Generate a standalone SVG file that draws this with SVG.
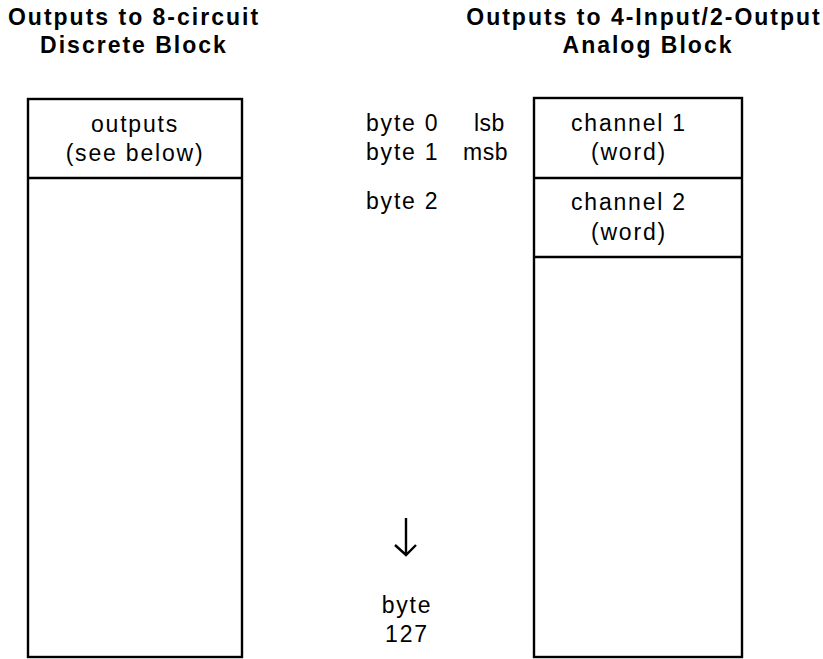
<svg xmlns="http://www.w3.org/2000/svg" width="823" height="659" viewBox="0 0 823 659">
  <style>
    .title { font-family: "Liberation Sans", Arial, sans-serif; font-weight: bold; font-size: 23px; letter-spacing: 2px; fill: #000; text-anchor: middle; }
    .lbl { font-family: "Liberation Sans", Arial, sans-serif; font-size: 23px; letter-spacing: 1.8px; fill: #000; }
    .tight { letter-spacing: 0.5px; }
    .mid { text-anchor: middle; }
    .box { fill: #fff; stroke: #000; stroke-width: 2.4; }
    .rule { stroke: #000; stroke-width: 2.4; fill: none; }
  </style>
  <rect width="823" height="659" fill="#fff"/>

  <!-- Discrete block output image -->
  <g id="discrete-title">
    <text class="title" x="134" y="25">Outputs to 8-circuit</text>
    <text class="title" x="134" y="53">Discrete Block</text>
  </g>
  <g id="discrete-table">
    <rect class="box" x="28" y="99" width="214" height="558"/>
    <line class="rule" x1="28" y1="178" x2="242" y2="178"/>
    <text class="lbl mid" x="135" y="132">outputs</text>
    <text class="lbl mid" x="135" y="161">(see below)</text>
  </g>

  <!-- Analog block output image -->
  <g id="analog-title">
    <text class="title" x="644" y="25">Outputs to 4-Input/2-Output</text>
    <text class="title" x="648" y="53">Analog Block</text>
  </g>
  <g id="byte-labels">
    <text class="lbl" x="366" y="131">byte 0</text>
    <text class="lbl tight" x="474" y="131">lsb</text>
    <text class="lbl" x="366" y="160">byte 1</text>
    <text class="lbl tight" x="463" y="160">msb</text>
    <text class="lbl" x="366" y="209">byte 2</text>
    <text class="lbl mid" x="407" y="613">byte</text>
    <text class="lbl mid" x="407" y="642">127</text>
  </g>
  <g id="analog-table">
    <rect class="box" x="534" y="98" width="208" height="559"/>
    <line class="rule" x1="534" y1="178" x2="742" y2="178"/>
    <line class="rule" x1="534" y1="257" x2="742" y2="257"/>
    <text class="lbl mid" x="629" y="131">channel 1</text>
    <text class="lbl mid" x="629" y="160">(word)</text>
    <text class="lbl mid" x="629" y="210">channel 2</text>
    <text class="lbl mid" x="629" y="240">(word)</text>
  </g>

  <!-- byte order continues downward -->
  <g id="connectors">
    <path class="rule" d="M406 518 V555 M395 545 L406 555 L416 545"/>
  </g>
</svg>
